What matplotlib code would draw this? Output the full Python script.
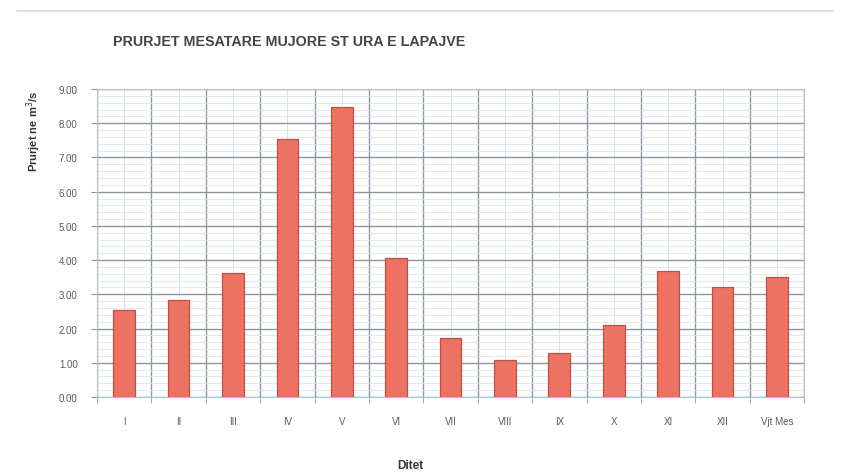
import matplotlib.pyplot as plt
import numpy as np
from matplotlib.ticker import MultipleLocator, FixedLocator

# prurjet mesatare mujore (m3/s)
muajt = ["I", "II", "III", "IV", "V", "VI", "VII", "VIII", "IX", "X", "XI", "XII", "Vjt Mes"]
prurjet = [2.54, 2.84, 3.62, 7.54, 8.48, 4.06, 1.72, 1.08, 1.28, 2.10, 3.68, 3.22, 3.50]

plt.rcParams['font.family'] = ['Liberation Sans', 'DejaVu Sans']

fig = plt.figure(figsize=(8.54, 4.77), dpi=100)
ax = fig.add_axes([0.1136, 0.1656, 0.828, 0.6457])

x = np.arange(len(muajt))
ax.bar(x, prurjet, width=0.4, color='#ec7363', edgecolor='#b9524a', linewidth=0.9, zorder=3)

ax.set_xlim(-0.5, len(muajt) - 0.5)
ax.set_ylim(0, 9)

ax.yaxis.set_major_locator(MultipleLocator(1))
ax.yaxis.set_minor_locator(MultipleLocator(0.2))
ax.set_yticklabels(["%.2f" % v for v in ax.get_yticks()])
ax.set_xticks(x)
ax.set_xticklabels(muajt)
ax.xaxis.set_minor_locator(FixedLocator(np.arange(-0.5, len(muajt), 1.0)))

ax.grid(which='major', axis='y', color='#8e979f', linewidth=1.0, zorder=0)
ax.grid(which='minor', axis='y', color='#dde5ea', linewidth=0.6, zorder=0)
ax.grid(which='minor', axis='x', color='#8e979f', linewidth=1.0, zorder=0)
ax.grid(which='major', axis='x', color='#dbe3e8', linewidth=0.7, zorder=0)

ax.tick_params(axis='x', which='major', length=0, pad=14, labelsize=7, labelcolor='#5a5a5a')
ax.tick_params(axis='x', which='minor', length=4, color='#8e979f')
ax.tick_params(axis='y', which='major', length=4, color='#8e979f', pad=10, labelsize=7, labelcolor='#5a5a5a')
ax.tick_params(axis='y', which='minor', length=0)

for s in ax.spines.values():
    s.set_color('#b8c4cc')
    s.set_linewidth(0.8)
ax.spines['bottom'].set_color('#9fc8d8')

fig.text(0.338, 0.911, "PRURJET MESATARE MUJORE ST URA E LAPAJVE", ha='center', va='center',
         fontsize=10.3, fontweight='bold', color='#444444')
fig.text(0.039, 0.725, "Prurjet ne m$^3$/s", rotation=90, ha='center', va='center',
         fontsize=8, fontweight='bold', color='#333333')
fig.text(0.48, 0.023, "Ditet", ha='center', va='center',
         fontsize=8.5, fontweight='bold', color='#333333')

# linja e siperme
fig.add_artist(plt.Line2D([0.02, 0.975], [0.975, 0.975], color='#d5dadd', linewidth=1.2))

fig.savefig("out.png", dpi=100, facecolor='white')
